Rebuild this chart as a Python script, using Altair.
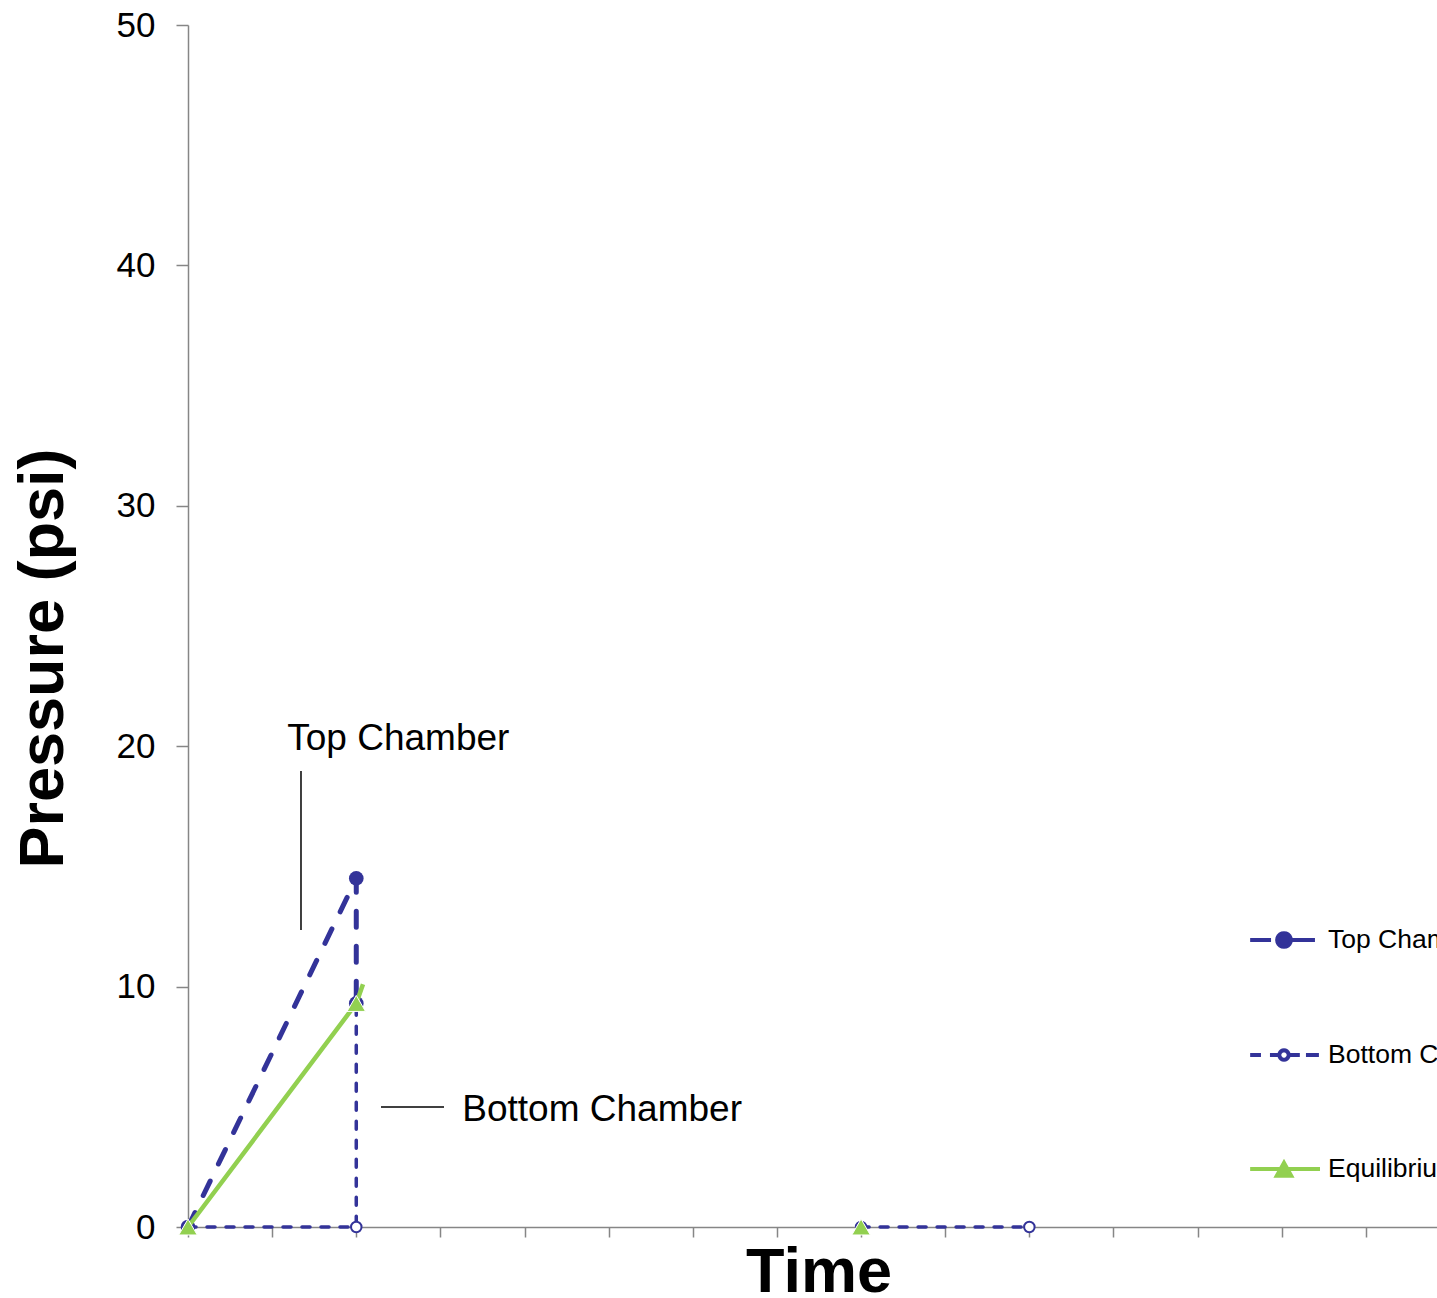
import math
import altair as alt
import pandas as pd

FONT = "Liberation Sans"
BLUE = "#333399"
GREEN = "#92D050"
AXIS_GREY = "#868686"

series_names = ["Top Chamber", "Bottom Chamber", "Equilibrium"]

# Top chamber pressure trace
top_time = [0, 2, 2]
top_pressure = [0, 14.5, 9.3]

# Bottom chamber pressure trace (two separate runs)
bottom_time = [0, 2, 2, 8, 10]
bottom_pressure = [0, 0, 9.3, 0, 0]
bottom_run = [1, 1, 1, 2, 2]

# Equilibrium trace and its markers
eq_line_time = [0, 2, 2.08]
eq_line_pressure = [0, 9.3, 10.1]
eq_marker_time = [0, 2, 8]
eq_marker_pressure = [0, 9.3, 0]

y_ticks = [0, 10, 20, 30, 40, 50]
x_ticks = list(range(15))

# Callout labels and their leader lines
callout_text = ["Top Chamber", "Bottom Chamber"]
callout_time = [1.18, 3.26]
callout_pressure = [19.84, 4.41]
leader_time = [1.343, 2.294]
leader_time2 = [1.343, 3.043]
leader_pressure = [18.97, 4.99]
leader_pressure2 = [12.35, 4.99]

top_df = pd.DataFrame({"t": top_time, "p": top_pressure})
bottom_df = pd.DataFrame({"t": bottom_time, "p": bottom_pressure, "run": bottom_run})
eq_line_df = pd.DataFrame({"t": eq_line_time, "p": eq_line_pressure})
eq_marker_df = pd.DataFrame({"t": eq_marker_time, "p": eq_marker_pressure})
callout_df = pd.DataFrame({"t": callout_time, "p": callout_pressure, "label": callout_text})
leader_df = pd.DataFrame({"t": leader_time, "t2": leader_time2,
                          "p": leader_pressure, "p2": leader_pressure2})
legend_df = pd.DataFrame({"series": series_names, "t": [0, 0, 0], "p": [0, 0, 0]})

x_scale = alt.Scale(domain=[0, 14.845], nice=False, zero=False)
y_scale = alt.Scale(domain=[0, 50], nice=False)

x_enc = alt.X(
    "t:Q", scale=x_scale,
    axis=alt.Axis(
        values=x_ticks, labels=False, grid=False, tickSize=10, tickWidth=1.5,
        tickColor=AXIS_GREY, domainColor=AXIS_GREY, domainWidth=1.5,
        title="Time", titleFont=FONT, titleFontSize=63, titleFontWeight="bold",
        titleColor="black", titleX=630.5, titleY=64, titleAlign="center",
        titleBaseline="alphabetic", titleAnchor="middle",
    ),
)
y_enc = alt.Y(
    "p:Q", scale=y_scale,
    axis=alt.Axis(
        values=y_ticks, grid=False, tickSize=12, tickWidth=1.5,
        tickColor=AXIS_GREY, domainColor=AXIS_GREY, domainWidth=1.5,
        labelFont=FONT, labelFontSize=35, labelColor="black", labelPadding=21,
        labelFlush=False,
        title="Pressure (psi)", titleFont=FONT, titleFontSize=63,
        titleFontWeight="bold", titleColor="black", titleAngle=270,
        titleX=-126, titleY=633, titleAlign="center", titleBaseline="alphabetic",
    ),
)


def ring(r, n=20):
    pts = []
    for i in range(n):
        a = 2 * math.pi * i / n
        pts.append(f"{r * math.cos(a):.3f},{r * math.sin(a):.3f}")
    return "M" + "L".join(pts) + "Z"


# Legend symbols: line stubs with the series marker in the middle
legend_paths = [
    "M-0.94,0H-0.36M0.19,0H0.86" + ring(0.19),
    "M-0.94,0H-0.64M-0.39,0H-0.13M0.13,0H0.44M0.61,0H0.97" + ring(0.13),
    "M-0.94,0H1.0M-0.2,0.19L0.2,0.19L0,-0.17Z",
]

leaders = alt.Chart(leader_df).mark_rule(color="black", strokeWidth=1.5).encode(
    x=x_enc, x2="t2:Q", y=y_enc, y2="p2:Q"
)
callouts = alt.Chart(callout_df).mark_text(
    align="left", baseline="alphabetic", font=FONT, fontSize=37, color="black"
).encode(x=x_enc, y=y_enc, text="label:N")

top_line = alt.Chart(top_df).mark_line(
    color=BLUE, strokeWidth=5, strokeDash=[16, 19], strokeCap="round"
).encode(x=x_enc, y=y_enc, order="index:Q").transform_window(index="row_number()")
top_pts = alt.Chart(top_df).mark_point(
    shape="circle", filled=True, color=BLUE, size=215, opacity=1
).encode(x=x_enc, y=y_enc)

bottom_line = alt.Chart(bottom_df).mark_line(
    color=BLUE, strokeWidth=3.5, strokeDash=[8, 11], strokeCap="round"
).encode(x=x_enc, y=y_enc, detail="run:N", order="index:Q").transform_window(
    index="row_number()")
bottom_pts = alt.Chart(bottom_df).mark_point(
    shape="circle", filled=False, fill="white", stroke=BLUE, strokeWidth=2,
    size=110, opacity=1, fillOpacity=1
).encode(x=x_enc, y=y_enc)

eq_line = alt.Chart(eq_line_df).mark_line(
    color=GREEN, strokeWidth=4.5
).encode(x=x_enc, y=y_enc, order="index:Q").transform_window(index="row_number()")
eq_pts = alt.Chart(eq_marker_df).mark_point(
    shape="triangle-up", filled=True, fill=GREEN, stroke="white", strokeWidth=1,
    size=340, opacity=1
).encode(x=x_enc, y=y_enc)

legend_layer = alt.Chart(legend_df).mark_point(filled=False, strokeWidth=4, opacity=1).encode(
    x=x_enc, y=y_enc,
    shape=alt.Shape(
        "series:N",
        scale=alt.Scale(domain=series_names, range=legend_paths),
        legend=alt.Legend(
            title=None, orient="none", legendX=1058, legendY=877,
            symbolSize=5184, symbolStrokeWidth=4, rowPadding=62,
            labelFont=FONT, labelFontSize=26.5, labelColor="black",
            labelOffset=6, labelLimit=0, padding=0, symbolOpacity=1,
        ),
    ),
    stroke=alt.Stroke(
        "series:N", scale=alt.Scale(domain=series_names, range=[BLUE, BLUE, GREEN])
    ),
    fill=alt.Fill(
        "series:N", scale=alt.Scale(domain=series_names, range=[BLUE, "white", GREEN])
    ),
).transform_filter("datum.t > 100")

chart = alt.layer(
    legend_layer, leaders, callouts,
    top_line, top_pts, bottom_line, bottom_pts, eq_line, eq_pts,
).properties(
    width=1249, height=1202,
    autosize=alt.AutoSizeParams(type="none"),
    padding={"left": 188, "top": 25, "right": 0, "bottom": 71},
    background="white",
).configure_view(stroke=None)

chart.save("out.html", embed_options={"renderer": "svg", "actions": False})
